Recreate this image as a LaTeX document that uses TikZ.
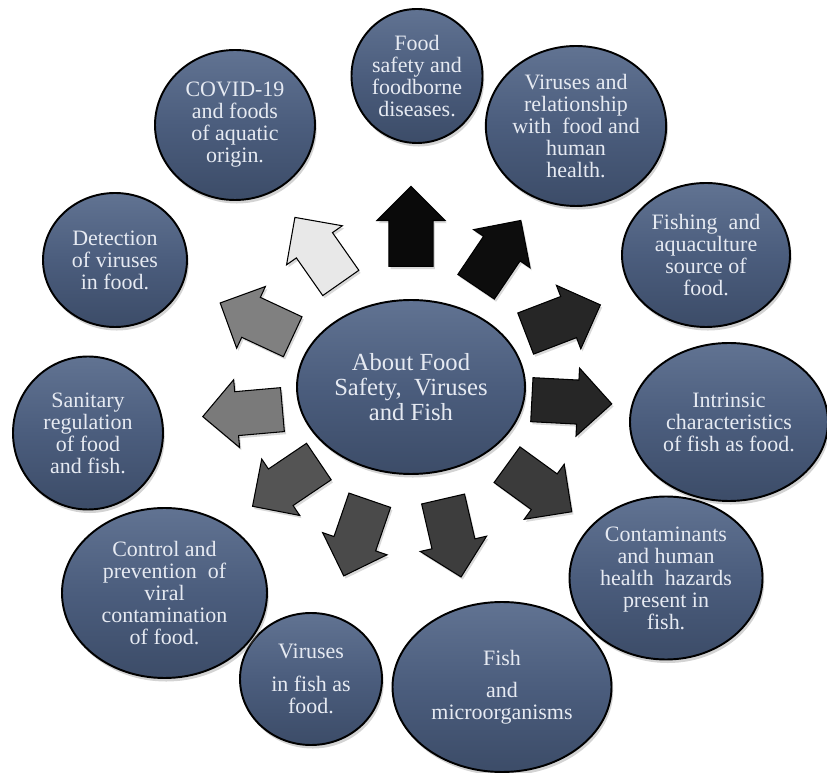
\documentclass[tikz,border=0pt]{standalone}
\usepackage{fontspec}
\setmainfont{Liberation Serif}
\usetikzlibrary{shapes.geometric}
\usetikzlibrary{shapes.arrows}
\usetikzlibrary{shadows}
\usetikzlibrary{calc}

\definecolor{bubblemid}{HTML}{4B5D7D}
\definecolor{bubbletop}{HTML}{617392}
\definecolor{bubblebot}{HTML}{3C4C68}
\definecolor{bubbletext}{HTML}{E6EAF2}

\tikzset{
    bubble/.style={ellipse, draw=black, line width=1.1pt,
        top color=bubbletop, bottom color=bubblebot, middle color=bubblemid,
        text=bubbletext, align=center, inner sep=0pt,
        font=\fontsize{12.5}{12.5}\selectfont,
        drop shadow={shadow xshift=1pt, shadow yshift=-2pt, opacity=0.35}},
    blockarrow/.style={single arrow, draw=black, line width=0.6pt,
        minimum height=1.6cm, inner xsep=0pt, inner ysep=0.43cm,
        single arrow head extend=0.24cm, anchor=tail,
        drop shadow={shadow xshift=1pt, shadow yshift=-1.5pt, opacity=0.3}},
}

\begin{document}
\begin{tikzpicture}
                \useasboundingbox (0,0) rectangle (16.54,15.44);

                % middle
                \node[bubble, minimum width=4.56cm, minimum height=3.48cm,
                    font=\fontsize{14}{14}\selectfont] (hub) at (8.22,7.70)
                    {About Food\\Safety,~ Viruses\\and Fish};

                % ring of topics
                \node[bubble, minimum width=2.62cm, minimum height=2.68cm] (foodsafety) at (8.34,13.92)
                    {Food\\safety and\\foodborne\\diseases.};
                \node[bubble, minimum width=3.44cm, minimum height=3.2cm] (relation) at (11.52,12.92)
                    {Viruses and\\relationship\\with~ food and\\human\\health.};
                \node[bubble, minimum width=3.36cm, minimum height=2.88cm] (fishing) at (14.12,10.34)
                    {Fishing~ and\\aquaculture\\source of\\food.};
                \node[bubble, minimum width=3.96cm, minimum height=3.16cm] (intrinsic) at (14.58,7.0)
                    {Intrinsic\\characteristics\\of fish as food.};
                \node[bubble, minimum width=3.86cm, minimum height=3.26cm] (contam) at (13.32,3.88)
                    {Contaminants\\and human\\health~ hazards\\present in\\fish.};
                \node[bubble, minimum width=4.38cm, minimum height=3.4cm] (micro) at (10.04,1.70)
                    {Fish\\[6pt]and\\microorganisms};
                \node[bubble, minimum width=2.84cm, minimum height=2.64cm] (fishfood) at (6.22,1.86)
                    {Viruses\\[6pt]in fish as\\food.};
                \node[bubble, minimum width=4.1cm, minimum height=3.4cm] (control) at (3.29,3.58)
                    {Control and\\prevention~ of\\viral\\contamination\\of food.};
                \node[bubble, minimum width=3.0cm, minimum height=3.06cm] (sanitary) at (1.76,6.78)
                    {Sanitary\\regulation\\of food\\and fish.};
                \node[bubble, minimum width=2.88cm, minimum height=2.68cm] (detection) at (2.30,10.24)
                    {Detection\\of viruses\\in food.};
                \node[bubble, minimum width=3.2cm, minimum height=3.0cm] (covid) at (4.70,12.94)
                    {COVID-19\\and foods\\of aquatic\\origin.};

                % arrows pointing out of the middle
                \node[blockarrow, fill=black!96, rotate=90]   (toFood)      at ($(hub)+(90:2.40)$) {};
                \node[blockarrow, fill=black!95, rotate=56]   (toRelation)  at ($(hub)+(57:2.38)$) {};
                \node[blockarrow, fill=black!85, rotate=21]   (toFishing)   at ($(hub)+(25:2.52)$) {};
                \node[blockarrow, fill=black!85, rotate=-3]   (toIntrinsic) at ($(hub)+(-6:2.42)$) {};
                \node[blockarrow, fill=black!77, rotate=-36]  (toContam)    at ($(hub)+(-39:2.46)$) {};
                \node[blockarrow, fill=black!76, rotate=-77]  (toMicro)     at ($(hub)+(-74:2.32)$) {};
                \node[blockarrow, fill=black!71, rotate=-109] (toFishFood)  at ($(hub)+(-110:2.40)$) {};
                \node[blockarrow, fill=black!67, rotate=-146] (toControl)   at ($(hub)+(-141:2.36)$) {};
                \node[blockarrow, fill=black!52, rotate=-175] (toSanitary)  at ($(hub)+(-170:2.60)$) {};
                \node[blockarrow, fill=black!50, rotate=155]  (toDetection) at ($(hub)+(157:2.56)$) {};
                \node[blockarrow, fill=black!9, rotate=125]   (toCovid)     at ($(hub)+(124:2.50)$) {};
\end{tikzpicture}
\end{document}
